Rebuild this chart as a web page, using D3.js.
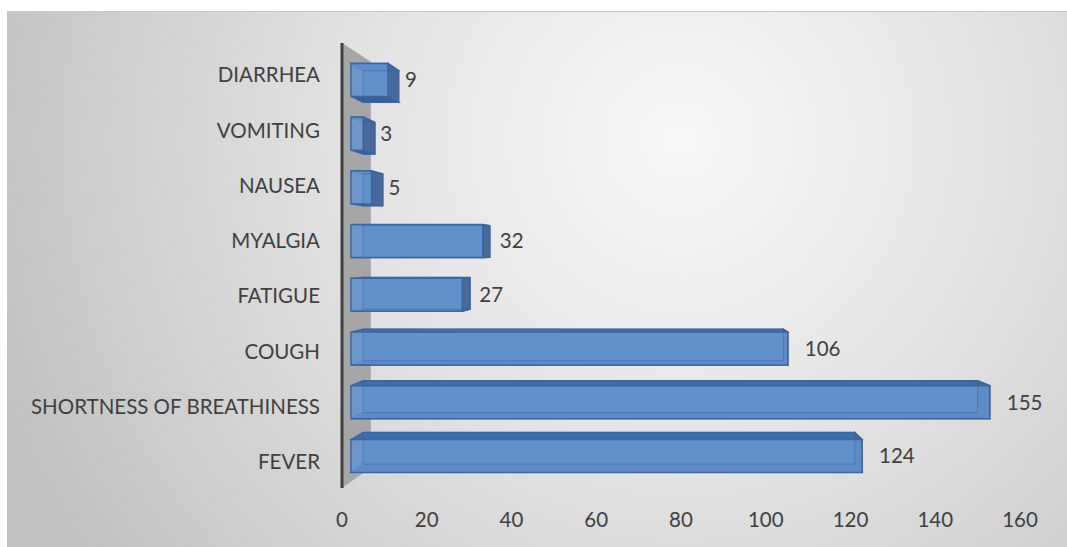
<!DOCTYPE html>
<html>
<head>
<meta charset="utf-8">
<script src="https://cdn.jsdelivr.net/npm/d3@7"></script>
<style>
  body { margin: 0; background: #fff; }
  svg { display: block; }
  text { font-family: Lato, "Open Sans", sans-serif; fill: #404040; }
</style>
</head>
<body>
<div id="chart"></div>
<script>
(function(){

    // data
    var categories = ["DIARRHEA", "VOMITING", "NAUSEA", "MYALGIA", "FATIGUE", "COUGH", "SHORTNESS OF BREATHINESS", "FEVER"];
    var values = [9, 3, 5, 32, 27, 106, 155, 124];
    var tickValues = [0, 20, 40, 60, 80, 100, 120, 140, 160];

    var width = 1067, height = 547;
    var vp = [670, 255];       // vanishing point of the 3d view
    var sFront = 0.9726, sBack = 0.9356, sWall = 0.912;
    var fontSize = 20.5;

    var svg = d3.select("#chart").append("svg")
        .attr("width", width)
        .attr("height", height);

    // background
    var defs = svg.append("defs");
    var grad = defs.append("radialGradient")
        .attr("id", "bg")
        .attr("gradientUnits", "userSpaceOnUse")
        .attr("cx", 680).attr("cy", 140).attr("r", 720);
    grad.append("stop").attr("offset", "0").attr("stop-color", "#f7f7f7");
    grad.append("stop").attr("offset", "0.45").attr("stop-color", "#e3e3e3");
    grad.append("stop").attr("offset", "1").attr("stop-color", "#c2c2c2");

    svg.append("rect")
        .attr("x", 7).attr("y", 11)
        .attr("width", width - 7).attr("height", height - 11)
        .attr("fill", "url(#bg)");
    svg.append("line")
        .attr("x1", 7).attr("x2", width).attr("y1", 11.5).attr("y2", 11.5)
        .attr("stroke", "#c8c8c8");

    var x = d3.scaleLinear().domain([0, 160]).range([342, 1020]);
    var y = d3.scaleBand().domain(categories).range([58, 478.6])
        .paddingInner(0.384).paddingOuter(0);
    var bw = y.bandwidth();

    // project a point of the front plane to depth s
    var proj = function(px, py, s) {
        return [vp[0] + (px - vp[0]) * s, vp[1] + (py - vp[1]) * s];
    };
    var poly = function(pts) {
        return pts.map(function(p) { return p[0] + "," + p[1]; }).join(" ");
    };

    // side wall
    var wx = x(0), wy0 = 43, wy1 = 488;
    svg.append("polygon")
        .attr("points", poly([proj(wx, wy0, 1), proj(wx, wy0, sWall), proj(wx, wy1, sWall), proj(wx, wy1, 1)]))
        .attr("fill", "#a6a6a6");
    svg.append("line")
        .attr("x1", wx).attr("x2", wx).attr("y1", wy0).attr("y2", wy1)
        .attr("stroke", "#404040").attr("stroke-width", 3);

    var data = categories.map(function(c, i) { return {cat: c, value: values[i]}; });

    var bars = svg.selectAll("g.bar")
        .data(data)
        .enter()
        .append("g")
        .attr("class", "bar");

    var faces = function(d) {
        var X0 = x(0), X1 = x(d.value), Y0 = y(d.cat), Y1 = Y0 + bw;
        var f = function(a, b) { return proj(a, b, sFront); };
        var b = function(a, c) { return proj(a, c, sBack); };
        return {
            back:   [b(X0, Y0), b(X1, Y0), b(X1, Y1), b(X0, Y1)],
            top:    [f(X0, Y0), f(X1, Y0), b(X1, Y0), b(X0, Y0)],
            bottom: [f(X0, Y1), f(X1, Y1), b(X1, Y1), b(X0, Y1)],
            right:  [f(X1, Y0), b(X1, Y0), b(X1, Y1), f(X1, Y1)],
            front:  [f(X0, Y0), f(X1, Y0), f(X1, Y1), f(X0, Y1)]
        };
    };

    bars.append("polygon")
        .attr("points", function(d) { return poly(faces(d).back); })
        .attr("fill", "#4f7fbd");
    bars.append("polygon")
        .attr("points", function(d) { return poly(faces(d).top); })
        .attr("fill", "#416da8").attr("stroke", "#3866a6").attr("stroke-width", 1.2);
    bars.append("polygon")
        .attr("points", function(d) { return poly(faces(d).bottom); })
        .attr("fill", "#3b5f97").attr("stroke", "#3866a6").attr("stroke-width", 1.2);
    bars.append("polygon")
        .attr("points", function(d) { return poly(faces(d).right); })
        .attr("fill", "#4a6899").attr("stroke", "#3866a6").attr("stroke-width", 1.2);
    bars.append("polygon")
        .attr("points", function(d) { return poly(faces(d).front); })
        .attr("fill", "#6493cd").attr("fill-opacity", 0.85)
        .attr("stroke", "#3866a6").attr("stroke-width", 1.5);
    // back edges seen through the glass
    bars.append("polygon")
        .attr("points", function(d) { return poly(faces(d).back); })
        .attr("fill", "none").attr("stroke", "#3866a6").attr("stroke-opacity", 0.5);

    // value labels
    bars.append("text")
        .attr("x", function(d) { return proj(x(d.value), y(d.cat) + bw / 2, sFront)[0] + 17; })
        .attr("y", function(d) { return proj(x(d.value), y(d.cat) + bw / 2, sFront)[1]; })
        .attr("dy", "0.36em")
        .style("font-size", fontSize + "px")
        .text(function(d) { return d.value; });

    // category labels
    svg.selectAll("text.cat")
        .data(categories)
        .enter()
        .append("text")
        .attr("class", "cat")
        .attr("x", 320)
        .attr("y", function(d) { return y(d) + bw / 2; })
        .attr("dy", "0.36em")
        .attr("text-anchor", "end")
        .style("font-size", fontSize + "px")
        .text(function(d) { return d; });

    // value axis
    svg.selectAll("text.tick")
        .data(tickValues)
        .enter()
        .append("text")
        .attr("class", "tick")
        .attr("x", function(d) { return x(d); })
        .attr("y", 520)
        .attr("dy", "0.36em")
        .attr("text-anchor", "middle")
        .style("font-size", fontSize + "px")
        .text(function(d) { return d; });

})();
</script>
</body>
</html>
